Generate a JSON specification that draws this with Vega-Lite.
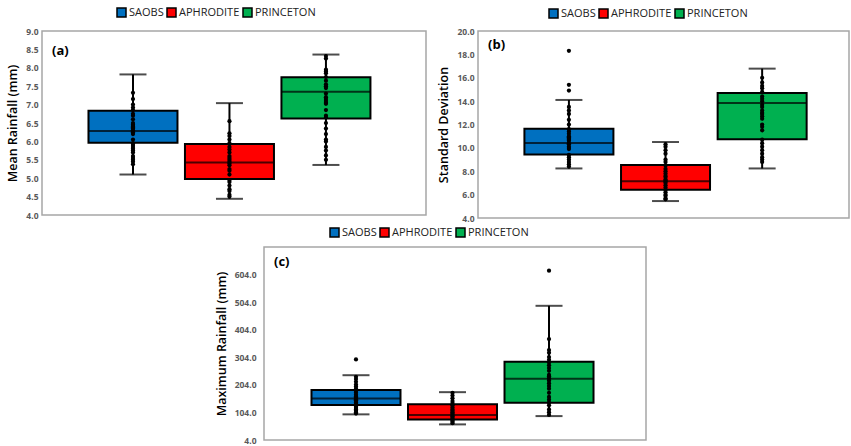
{
"$schema":"https://vega.github.io/schema/vega-lite/v6.json",
"background":"white",
"padding":{"left":6,"top":6,"right":0,"bottom":0},
"datasets":{
"stats":[
{"p":"a","g":"SAOBS","min":5.10,"q1":5.96,"med":6.28,"q3":6.83,"max":7.82},
{"p":"a","g":"APHRODITE","min":4.44,"q1":4.98,"med":5.43,"q3":5.93,"max":7.04},
{"p":"a","g":"PRINCETON","min":5.36,"q1":6.62,"med":7.35,"q3":7.74,"max":8.36},
{"p":"b","g":"SAOBS","min":8.24,"q1":9.43,"med":10.42,"q3":11.64,"max":14.1},
{"p":"b","g":"APHRODITE","min":5.45,"q1":6.41,"med":7.14,"q3":8.53,"max":10.5},
{"p":"b","g":"PRINCETON","min":8.24,"q1":10.74,"med":13.85,"q3":14.69,"max":16.78},
{"p":"c","g":"SAOBS","min":97,"q1":130.5,"med":154.6,"q3":185,"max":239},
{"p":"c","g":"APHRODITE","min":60.6,"q1":78.7,"med":94.4,"q3":134,"max":177.5},
{"p":"c","g":"PRINCETON","min":90.7,"q1":139,"med":225.7,"q3":288,"max":490.7}
],
"pts":[
{"p":"a","g":"SAOBS","v":7.32},{"p":"a","g":"SAOBS","v":7.15},{"p":"a","g":"SAOBS","v":7.0},{"p":"a","g":"SAOBS","v":6.92},{"p":"a","g":"SAOBS","v":6.85},{"p":"a","g":"SAOBS","v":6.75},{"p":"a","g":"SAOBS","v":6.7},{"p":"a","g":"SAOBS","v":6.6},{"p":"a","g":"SAOBS","v":6.5},{"p":"a","g":"SAOBS","v":6.45},{"p":"a","g":"SAOBS","v":6.42},{"p":"a","g":"SAOBS","v":6.4},{"p":"a","g":"SAOBS","v":6.38},{"p":"a","g":"SAOBS","v":6.35},{"p":"a","g":"SAOBS","v":6.3},{"p":"a","g":"SAOBS","v":6.25},{"p":"a","g":"SAOBS","v":6.2},{"p":"a","g":"SAOBS","v":6.05},{"p":"a","g":"SAOBS","v":5.95},{"p":"a","g":"SAOBS","v":5.9},{"p":"a","g":"SAOBS","v":5.85},{"p":"a","g":"SAOBS","v":5.8},{"p":"a","g":"SAOBS","v":5.75},{"p":"a","g":"SAOBS","v":5.7},{"p":"a","g":"SAOBS","v":5.6},{"p":"a","g":"SAOBS","v":5.55},{"p":"a","g":"SAOBS","v":5.5},{"p":"a","g":"SAOBS","v":5.45},{"p":"a","g":"SAOBS","v":5.38},
{"p":"a","g":"APHRODITE","v":6.55},{"p":"a","g":"APHRODITE","v":6.22},{"p":"a","g":"APHRODITE","v":6.15},{"p":"a","g":"APHRODITE","v":6.05},{"p":"a","g":"APHRODITE","v":5.95},{"p":"a","g":"APHRODITE","v":5.85},{"p":"a","g":"APHRODITE","v":5.78},{"p":"a","g":"APHRODITE","v":5.7},{"p":"a","g":"APHRODITE","v":5.6},{"p":"a","g":"APHRODITE","v":5.55},{"p":"a","g":"APHRODITE","v":5.5},{"p":"a","g":"APHRODITE","v":5.45},{"p":"a","g":"APHRODITE","v":5.4},{"p":"a","g":"APHRODITE","v":5.35},{"p":"a","g":"APHRODITE","v":5.25},{"p":"a","g":"APHRODITE","v":5.2},{"p":"a","g":"APHRODITE","v":5.1},{"p":"a","g":"APHRODITE","v":4.95},{"p":"a","g":"APHRODITE","v":4.9},{"p":"a","g":"APHRODITE","v":4.8},{"p":"a","g":"APHRODITE","v":4.7},{"p":"a","g":"APHRODITE","v":4.65},{"p":"a","g":"APHRODITE","v":4.55},{"p":"a","g":"APHRODITE","v":4.5},
{"p":"a","g":"PRINCETON","v":8.32},{"p":"a","g":"PRINCETON","v":8.25},{"p":"a","g":"PRINCETON","v":7.95},{"p":"a","g":"PRINCETON","v":7.9},{"p":"a","g":"PRINCETON","v":7.85},{"p":"a","g":"PRINCETON","v":7.75},{"p":"a","g":"PRINCETON","v":7.65},{"p":"a","g":"PRINCETON","v":7.55},{"p":"a","g":"PRINCETON","v":7.5},{"p":"a","g":"PRINCETON","v":7.45},{"p":"a","g":"PRINCETON","v":7.3},{"p":"a","g":"PRINCETON","v":7.2},{"p":"a","g":"PRINCETON","v":7.15},{"p":"a","g":"PRINCETON","v":7.1},{"p":"a","g":"PRINCETON","v":7.05},{"p":"a","g":"PRINCETON","v":7.02},{"p":"a","g":"PRINCETON","v":6.85},{"p":"a","g":"PRINCETON","v":6.7},{"p":"a","g":"PRINCETON","v":6.65},{"p":"a","g":"PRINCETON","v":6.5},{"p":"a","g":"PRINCETON","v":6.35},{"p":"a","g":"PRINCETON","v":6.2},{"p":"a","g":"PRINCETON","v":6.05},{"p":"a","g":"PRINCETON","v":6.0},{"p":"a","g":"PRINCETON","v":5.85},{"p":"a","g":"PRINCETON","v":5.75},{"p":"a","g":"PRINCETON","v":5.62},{"p":"a","g":"PRINCETON","v":5.5},
{"p":"b","g":"SAOBS","v":18.3},{"p":"b","g":"SAOBS","v":15.4},{"p":"b","g":"SAOBS","v":14.9},{"p":"b","g":"SAOBS","v":13.5},{"p":"b","g":"SAOBS","v":13.2},{"p":"b","g":"SAOBS","v":12.9},{"p":"b","g":"SAOBS","v":12.4},{"p":"b","g":"SAOBS","v":12.0},{"p":"b","g":"SAOBS","v":11.6},{"p":"b","g":"SAOBS","v":11.4},{"p":"b","g":"SAOBS","v":11.2},{"p":"b","g":"SAOBS","v":11.0},{"p":"b","g":"SAOBS","v":10.9},{"p":"b","g":"SAOBS","v":10.8},{"p":"b","g":"SAOBS","v":10.7},{"p":"b","g":"SAOBS","v":10.6},{"p":"b","g":"SAOBS","v":10.4},{"p":"b","g":"SAOBS","v":10.3},{"p":"b","g":"SAOBS","v":10.1},{"p":"b","g":"SAOBS","v":10.0},{"p":"b","g":"SAOBS","v":9.9},{"p":"b","g":"SAOBS","v":9.4},{"p":"b","g":"SAOBS","v":9.2},{"p":"b","g":"SAOBS","v":9.0},{"p":"b","g":"SAOBS","v":8.8},{"p":"b","g":"SAOBS","v":8.6},{"p":"b","g":"SAOBS","v":8.4},
{"p":"b","g":"APHRODITE","v":10.3},{"p":"b","g":"APHRODITE","v":10.1},{"p":"b","g":"APHRODITE","v":9.8},{"p":"b","g":"APHRODITE","v":9.5},{"p":"b","g":"APHRODITE","v":9.0},{"p":"b","g":"APHRODITE","v":8.8},{"p":"b","g":"APHRODITE","v":8.5},{"p":"b","g":"APHRODITE","v":8.2},{"p":"b","g":"APHRODITE","v":8.0},{"p":"b","g":"APHRODITE","v":7.8},{"p":"b","g":"APHRODITE","v":7.6},{"p":"b","g":"APHRODITE","v":7.5},{"p":"b","g":"APHRODITE","v":7.3},{"p":"b","g":"APHRODITE","v":7.2},{"p":"b","g":"APHRODITE","v":7.1},{"p":"b","g":"APHRODITE","v":7.0},{"p":"b","g":"APHRODITE","v":6.8},{"p":"b","g":"APHRODITE","v":6.6},{"p":"b","g":"APHRODITE","v":6.4},{"p":"b","g":"APHRODITE","v":6.2},{"p":"b","g":"APHRODITE","v":6.0},{"p":"b","g":"APHRODITE","v":5.9},{"p":"b","g":"APHRODITE","v":5.7},{"p":"b","g":"APHRODITE","v":5.6},
{"p":"b","g":"PRINCETON","v":16.0},{"p":"b","g":"PRINCETON","v":15.6},{"p":"b","g":"PRINCETON","v":15.3},{"p":"b","g":"PRINCETON","v":15.1},{"p":"b","g":"PRINCETON","v":14.8},{"p":"b","g":"PRINCETON","v":14.4},{"p":"b","g":"PRINCETON","v":14.2},{"p":"b","g":"PRINCETON","v":14.0},{"p":"b","g":"PRINCETON","v":13.7},{"p":"b","g":"PRINCETON","v":13.5},{"p":"b","g":"PRINCETON","v":13.2},{"p":"b","g":"PRINCETON","v":13.0},{"p":"b","g":"PRINCETON","v":12.9},{"p":"b","g":"PRINCETON","v":12.7},{"p":"b","g":"PRINCETON","v":12.5},{"p":"b","g":"PRINCETON","v":12.0},{"p":"b","g":"PRINCETON","v":11.8},{"p":"b","g":"PRINCETON","v":11.5},{"p":"b","g":"PRINCETON","v":10.7},{"p":"b","g":"PRINCETON","v":10.4},{"p":"b","g":"PRINCETON","v":10.1},{"p":"b","g":"PRINCETON","v":9.8},{"p":"b","g":"PRINCETON","v":9.5},{"p":"b","g":"PRINCETON","v":9.2},{"p":"b","g":"PRINCETON","v":9.0},{"p":"b","g":"PRINCETON","v":8.8},
{"p":"c","g":"SAOBS","v":296},{"p":"c","g":"SAOBS","v":233},{"p":"c","g":"SAOBS","v":225},{"p":"c","g":"SAOBS","v":215},{"p":"c","g":"SAOBS","v":205},{"p":"c","g":"SAOBS","v":198},{"p":"c","g":"SAOBS","v":190},{"p":"c","g":"SAOBS","v":182},{"p":"c","g":"SAOBS","v":175},{"p":"c","g":"SAOBS","v":168},{"p":"c","g":"SAOBS","v":162},{"p":"c","g":"SAOBS","v":158},{"p":"c","g":"SAOBS","v":152},{"p":"c","g":"SAOBS","v":148},{"p":"c","g":"SAOBS","v":145},{"p":"c","g":"SAOBS","v":140},{"p":"c","g":"SAOBS","v":135},{"p":"c","g":"SAOBS","v":130},{"p":"c","g":"SAOBS","v":125},{"p":"c","g":"SAOBS","v":120},{"p":"c","g":"SAOBS","v":115},{"p":"c","g":"SAOBS","v":110},{"p":"c","g":"SAOBS","v":105},{"p":"c","g":"SAOBS","v":100},
{"p":"c","g":"APHRODITE","v":175},{"p":"c","g":"APHRODITE","v":165},{"p":"c","g":"APHRODITE","v":155},{"p":"c","g":"APHRODITE","v":145},{"p":"c","g":"APHRODITE","v":138},{"p":"c","g":"APHRODITE","v":130},{"p":"c","g":"APHRODITE","v":122},{"p":"c","g":"APHRODITE","v":115},{"p":"c","g":"APHRODITE","v":110},{"p":"c","g":"APHRODITE","v":105},{"p":"c","g":"APHRODITE","v":100},{"p":"c","g":"APHRODITE","v":95},{"p":"c","g":"APHRODITE","v":90},{"p":"c","g":"APHRODITE","v":85},{"p":"c","g":"APHRODITE","v":80},{"p":"c","g":"APHRODITE","v":75},{"p":"c","g":"APHRODITE","v":70},{"p":"c","g":"APHRODITE","v":65},
{"p":"c","g":"PRINCETON","v":618},{"p":"c","g":"PRINCETON","v":370},{"p":"c","g":"PRINCETON","v":330},{"p":"c","g":"PRINCETON","v":320},{"p":"c","g":"PRINCETON","v":305},{"p":"c","g":"PRINCETON","v":295},{"p":"c","g":"PRINCETON","v":285},{"p":"c","g":"PRINCETON","v":275},{"p":"c","g":"PRINCETON","v":265},{"p":"c","g":"PRINCETON","v":255},{"p":"c","g":"PRINCETON","v":240},{"p":"c","g":"PRINCETON","v":235},{"p":"c","g":"PRINCETON","v":228},{"p":"c","g":"PRINCETON","v":220},{"p":"c","g":"PRINCETON","v":210},{"p":"c","g":"PRINCETON","v":200},{"p":"c","g":"PRINCETON","v":190},{"p":"c","g":"PRINCETON","v":175},{"p":"c","g":"PRINCETON","v":160},{"p":"c","g":"PRINCETON","v":150},{"p":"c","g":"PRINCETON","v":140},{"p":"c","g":"PRINCETON","v":130},{"p":"c","g":"PRINCETON","v":115},{"p":"c","g":"PRINCETON","v":105},{"p":"c","g":"PRINCETON","v":95}
]
},
"config":{
"view":{"stroke":"#a6a6a6","strokeWidth":1.5},
"axis":{"labelFont":"Open Sans","labelFontWeight":"bold","labelFontSize":8.5,"labelColor":"#595959","labelOverlap":false,"tickCount":50,"ticks":false,"domain":false,"grid":false,"titleFont":"Open Sans","titleFontSize":12.5,"titleFontWeight":600,"titleColor":"#000","labelPadding":4,"titlePadding":6},
"legend":{"symbolType":"square","symbolSize":81,"symbolStrokeColor":"#000","symbolStrokeWidth":1.5,"labelFont":"Open Sans","labelFontSize":11,"labelColor":"#222","columnPadding":0,"labelOffset":2,"direction":"horizontal","orient":"none"},
"title":{"font":"Open Sans","fontSize":13,"fontWeight":"bold","color":"#000"}
},
"spacing":2,
"center":false,
"resolve":{"scale":{"x":"independent","y":"independent","color":"independent"},"legend":{"color":"independent"}},
"vconcat":[
{"hconcat":[
{"width":384,"height":184,
"title":{"text":"(a)","orient":"top","anchor":"start","frame":"group","offset":-22,"dx":10,"dy":29},
"layer":[
{"data":{"name":"stats"},"transform":[{"filter":"datum.p==='a'"}],"mark":{"type":"rule","color":"#000","strokeWidth":2},
"encoding":{"x":{"field":"g","type":"nominal","sort":["SAOBS","APHRODITE","PRINCETON"],"scale":{"type":"band","domain":["SAOBS","APHRODITE","PRINCETON"],"paddingInner":0,"paddingOuter":0.49,"align":0.452},"axis":null},
"y":{"field":"min","type":"quantitative","scale":{"domain":[4,9],"nice":false,"zero":false},"axis":{"title":"Mean Rainfall (mm)","values":[4,4.5,5,5.5,6,6.5,7,7.5,8,8.5,9],"tickCount":50,"format":".1f","labelOverlap":false}},"y2":{"field":"max"}}},
{"data":{"name":"stats"},"transform":[{"filter":"datum.p==='a'"}],"mark":{"type":"bar","size":89,"stroke":"#000","strokeWidth":2},
"encoding":{"x":{"field":"g","type":"nominal"},"y":{"field":"q1","type":"quantitative"},"y2":{"field":"q3"},
"color":{"field":"g","type":"nominal","scale":{"domain":["SAOBS","APHRODITE","PRINCETON"],"range":["#0070C0","#FF0000","#00B050"]},"legend":{"orient":"none","legendX":74,"legendY":-24,"direction":"horizontal","title":null}}}},
{"data":{"name":"stats"},"transform":[{"filter":"datum.p==='a'"}],"mark":{"type":"tick","size":27,"thickness":2,"color":"#000"},
"encoding":{"x":{"field":"g","type":"nominal"},"y":{"field":"min","type":"quantitative"}}},
{"data":{"name":"stats"},"transform":[{"filter":"datum.p==='a'"}],"mark":{"type":"tick","size":27,"thickness":2,"color":"#000"},
"encoding":{"x":{"field":"g","type":"nominal"},"y":{"field":"max","type":"quantitative"}}},
{"data":{"name":"stats"},"transform":[{"filter":"datum.p==='a'"}],"mark":{"type":"tick","size":89,"thickness":2,"color":"#000"},
"encoding":{"x":{"field":"g","type":"nominal"},"y":{"field":"med","type":"quantitative"}}},
{"data":{"name":"pts"},"transform":[{"filter":"datum.p==='a'"}],"mark":{"type":"circle","size":18,"color":"#000","opacity":1},
"encoding":{"x":{"field":"g","type":"nominal"},"y":{"field":"v","type":"quantitative"}}}
]},
{"width":371,"height":187,
"title":{"text":"(b)","orient":"top","anchor":"start","frame":"group","offset":-22,"dx":10,"dy":22},
"layer":[
{"data":{"name":"stats"},"transform":[{"filter":"datum.p==='b'"}],"mark":{"type":"rule","color":"#000","strokeWidth":2},
"encoding":{"x":{"field":"g","type":"nominal","sort":["SAOBS","APHRODITE","PRINCETON"],"scale":{"type":"band","domain":["SAOBS","APHRODITE","PRINCETON"],"paddingInner":0,"paddingOuter":0.42,"align":0.525},"axis":null},
"y":{"field":"min","type":"quantitative","scale":{"domain":[4,20],"nice":false,"zero":false},"axis":{"title":"Standard Deviation","values":[4,6,8,10,12,14,16,18,20],"tickCount":50,"format":".1f","labelOverlap":false}},"y2":{"field":"max"}}},
{"data":{"name":"stats"},"transform":[{"filter":"datum.p==='b'"}],"mark":{"type":"bar","size":89,"stroke":"#000","strokeWidth":2},
"encoding":{"x":{"field":"g","type":"nominal"},"y":{"field":"q1","type":"quantitative"},"y2":{"field":"q3"},
"color":{"field":"g","type":"nominal","scale":{"domain":["SAOBS","APHRODITE","PRINCETON"],"range":["#0070C0","#FF0000","#00B050"]},"legend":{"orient":"none","legendX":70,"legendY":-23,"direction":"horizontal","title":null}}}},
{"data":{"name":"stats"},"transform":[{"filter":"datum.p==='b'"}],"mark":{"type":"tick","size":27,"thickness":2,"color":"#000"},
"encoding":{"x":{"field":"g","type":"nominal"},"y":{"field":"min","type":"quantitative"}}},
{"data":{"name":"stats"},"transform":[{"filter":"datum.p==='b'"}],"mark":{"type":"tick","size":27,"thickness":2,"color":"#000"},
"encoding":{"x":{"field":"g","type":"nominal"},"y":{"field":"max","type":"quantitative"}}},
{"data":{"name":"stats"},"transform":[{"filter":"datum.p==='b'"}],"mark":{"type":"tick","size":89,"thickness":2,"color":"#000"},
"encoding":{"x":{"field":"g","type":"nominal"},"y":{"field":"med","type":"quantitative"}}},
{"data":{"name":"pts"},"transform":[{"filter":"datum.p==='b'"}],"mark":{"type":"circle","size":18,"color":"#000","opacity":1},
"encoding":{"x":{"field":"g","type":"nominal"},"y":{"field":"v","type":"quantitative"}}}
]}
],
"spacing":10,
"resolve":{"scale":{"x":"independent","y":"independent","color":"independent"},"legend":{"color":"independent"}}
},
{"hconcat":[
{"width":162,"height":10,"data":{"values":[]},"mark":"point","view":{"stroke":null}},
{"width":382,"height":193,
"title":{"text":"(c)","orient":"top","anchor":"start","frame":"group","offset":-22,"dx":10,"dy":20},
"layer":[
{"data":{"name":"stats"},"transform":[{"filter":"datum.p==='c'"}],"mark":{"type":"rule","color":"#000","strokeWidth":2},
"encoding":{"x":{"field":"g","type":"nominal","sort":["SAOBS","APHRODITE","PRINCETON"],"scale":{"type":"band","domain":["SAOBS","APHRODITE","PRINCETON"],"paddingInner":0,"paddingOuter":0.479,"align":0.473},"axis":null},
"y":{"field":"min","type":"quantitative","scale":{"domain":[4,704],"nice":false,"zero":false},"axis":{"title":"Maximum Rainfall (mm)","values":[4,104,204,304,404,504,604],"tickCount":50,"format":".1f","labelOverlap":false,"labelPadding":8}},"y2":{"field":"max"}}},
{"data":{"name":"stats"},"transform":[{"filter":"datum.p==='c'"}],"mark":{"type":"bar","size":89,"stroke":"#000","strokeWidth":2},
"encoding":{"x":{"field":"g","type":"nominal"},"y":{"field":"q1","type":"quantitative"},"y2":{"field":"q3"},
"color":{"field":"g","type":"nominal","scale":{"domain":["SAOBS","APHRODITE","PRINCETON"],"range":["#0070C0","#FF0000","#00B050"]},"legend":{"orient":"none","legendX":65,"legendY":-20,"direction":"horizontal","title":null}}}},
{"data":{"name":"stats"},"transform":[{"filter":"datum.p==='c'"}],"mark":{"type":"tick","size":27,"thickness":2,"color":"#000"},
"encoding":{"x":{"field":"g","type":"nominal"},"y":{"field":"min","type":"quantitative"}}},
{"data":{"name":"stats"},"transform":[{"filter":"datum.p==='c'"}],"mark":{"type":"tick","size":27,"thickness":2,"color":"#000"},
"encoding":{"x":{"field":"g","type":"nominal"},"y":{"field":"max","type":"quantitative"}}},
{"data":{"name":"stats"},"transform":[{"filter":"datum.p==='c'"}],"mark":{"type":"tick","size":89,"thickness":2,"color":"#000"},
"encoding":{"x":{"field":"g","type":"nominal"},"y":{"field":"med","type":"quantitative"}}},
{"data":{"name":"pts"},"transform":[{"filter":"datum.p==='c'"}],"mark":{"type":"circle","size":18,"color":"#000","opacity":1},
"encoding":{"x":{"field":"g","type":"nominal"},"y":{"field":"v","type":"quantitative"}}}
]}
],
"spacing":10,
"resolve":{"scale":{"x":"independent","y":"independent","color":"independent"},"legend":{"color":"independent"}}
}
]
}
